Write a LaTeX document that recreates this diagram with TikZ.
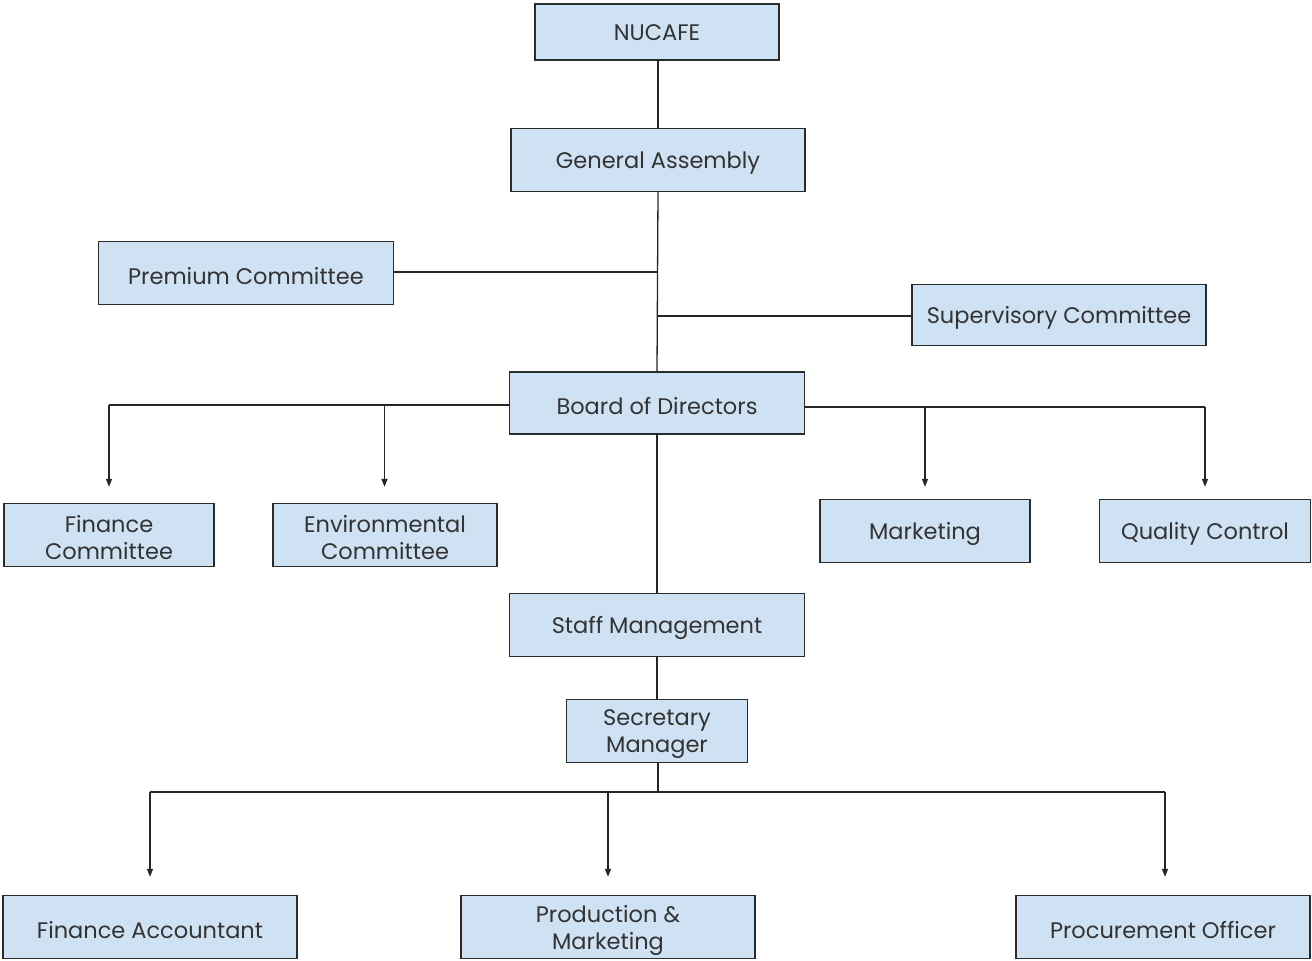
\documentclass[tikz,border=0pt]{standalone}
\usepackage{fontspec}
\setmainfont{Poppins}
\usetikzlibrary{arrows.meta}
\definecolor{boxfill}{HTML}{CFE2F3}
\definecolor{boxline}{HTML}{2B2B2B}
\definecolor{txt}{HTML}{333333}
\tikzset{
  orgbox/.style={draw=boxline, fill=boxfill, line width=1.3pt, inner sep=0pt},
  boxtext/.style={inner sep=0pt, align=center, text=txt, font=\fontsize{22.5}{27}\selectfont},
  link/.style={draw=black!85, line width=1.3pt},
  arr/.style={link, -{Triangle[width=6pt,length=8pt]}}
}
\newcommand{\obox}[7][-3pt]{\node[orgbox, minimum width=#4pt, minimum height=#5pt] (#2) at (#6,#7) {};
  \node[boxtext] (#2-t) at ([yshift=#1]#2.center) {#3};}
\begin{document}
\begin{tikzpicture}[x=1pt,y=-1pt]
\useasboundingbox (0,0) rectangle (1312,961);
\obox[-1pt]{nuc}{NUCAFE}{244}{56}{657}{32}
\obox{ga}{General Assembly}{294}{63}{658}{160}
\obox{pc}{Premium Committee}{295}{63}{246}{273}
\obox{sc}{Supervisory Committee}{294}{61}{1059}{315}
\obox{bod}{Board of Directors}{295}{62}{657}{403}
\obox{fc}{Finance\\Committee}{210}{63}{109}{535}
\obox{ec}{Environmental\\Committee}{224}{63}{385}{535}
\obox{mk}{Marketing}{210}{63}{925}{531}
\obox{qc}{Quality Control}{211}{63}{1205}{531}
\obox{sm}{Staff Management}{295}{63}{657}{625}
\obox{sec}{Secretary\\Manager}{181}{63}{657}{731}
\obox{fa}{Finance Accountant}{294}{63}{150}{927}
\obox{pm}{Production \&\\Marketing}{294}{63}{608}{927}
\obox{po}{Procurement Officer}{294}{63}{1163}{927}
% coordinates
\coordinate (jp) at (658,272);
\coordinate (js) at (658,316);
\coordinate (lL) at (109,405);
\coordinate (lE) at (384.5,405);
\coordinate (rM) at (925,407);
\coordinate (rQ) at (1205,407);
\coordinate (bj) at (658,792);
\coordinate (bF) at (150,792);
\coordinate (bP) at (608,792);
\coordinate (bR) at (1165,792);
% links
\draw[link] (nuc.south) -- (ga.south |- nuc.south) -- (ga.north);
\draw[link] (ga.south) -- (bod.north);
\draw[link] (pc.east |- jp) -- (jp);
\draw[link] (sc.west |- js) -- (js);
\draw[link] (bod.west |- lL) -- (lL);
\draw[arr] (lL) -- ([yshift=16pt]fc.north);
\draw[arr] (lE) -- ([yshift=16pt]ec.north -| lE);
\draw[link] (bod.east |- rM) -- (rQ);
\draw[arr] (rQ) -- ([yshift=12pt]qc.north);
\draw[arr] (rM) -- ([yshift=12pt]mk.north);
\draw[link] (bod.south) -- (sm.north);
\draw[link] (sm.south) -- (sec.north);
\draw[link] (sec.south -| bj) -- (bj);
\draw[link] (bF) -- (bR);
\draw[arr] (bF) -- ([yshift=18pt]fa.north);
\draw[arr] (bP) -- ([yshift=18pt]pm.north);
\draw[arr] (bR) -- ([yshift=18pt,xshift=2pt]po.north);
\end{tikzpicture}
\end{document}
